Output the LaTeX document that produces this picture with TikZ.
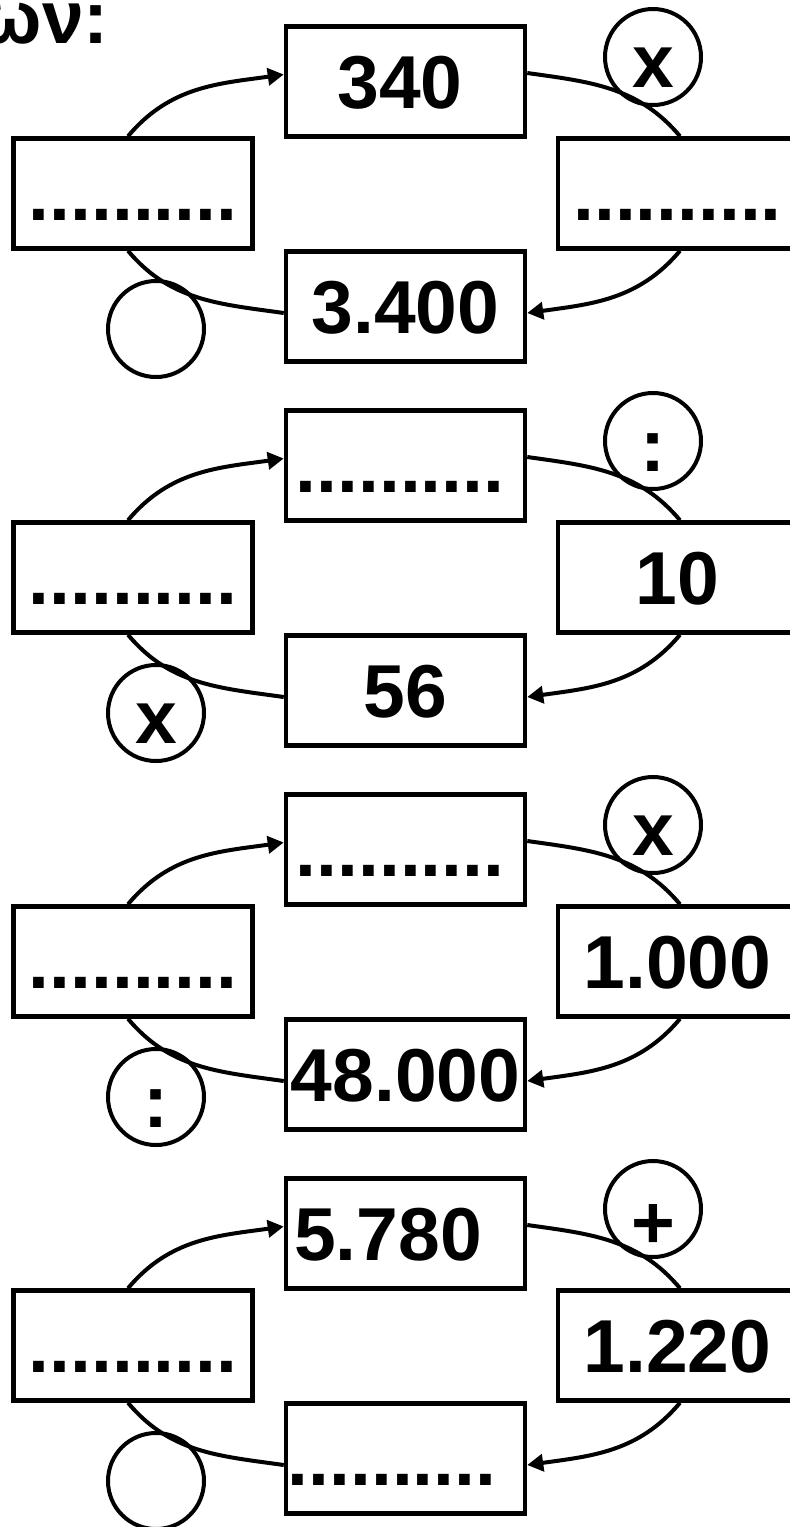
\documentclass[tikz,border=0pt]{standalone}
\usepackage{fontspec}
\setmainfont{Liberation Sans}
\usetikzlibrary{arrows.meta}
\newcommand\bigfont{\fontsize{75pt}{80pt}\selectfont\bfseries}
\newcommand\shl[2]{#2\hspace*{#1}}
\tikzset{
  numbox/.style={draw, line width=4.5pt, minimum width=239pt, minimum height=110pt,
    inner sep=0pt, text height=54pt, text depth=0pt, font=\bigfont},
  opcircle/.style={draw, circle, line width=4pt, minimum size=96pt, inner sep=0pt,
    text height=60pt, text depth=0pt, font=\bigfont},
  flow/.style={line width=4pt},
  flowarrow/.style={line width=4pt, -{Triangle[length=16pt,width=17pt]}},
}
% #1 vertical offset, #2 top, #3 left, #4 right, #5 bottom, #6 top-right op, #7 bottom-left op
\newcommand\cycleblock[7]{%
  \begin{scope}[yshift=-#1pt]
    \node[numbox] (t#1) at (405.5,-81.5) {#2};
    \node[numbox] (l#1) at (133,-193.5) {#3};
    \node[numbox] (r#1) at (677.5,-193.5) {#4};
    \node[numbox] (b#1) at (405.5,-306.5) {#5};
    \node[opcircle] (c#1) at (653,-57) {#6};
    \node[opcircle] (d#1) at (156,-329) {#7};
    \draw[flowarrow] ([xshift=-5pt]l#1.north) to[out=50,in=188] ([yshift=7pt]t#1.west);
    \draw[flow] ([yshift=8.5pt]t#1.east) to[out=-8,in=130] ([xshift=2.5pt]r#1.north);
    \draw[flowarrow] ([xshift=2.5pt]r#1.south) to[out=-130,in=8] ([yshift=-6.5pt]b#1.east);
    \draw[flow] ([yshift=-6.5pt]b#1.west) to[out=172,in=-50] ([xshift=-5pt]l#1.south);
  \end{scope}}
\begin{document}
\begin{tikzpicture}[x=1pt,y=1pt]
  \clip (0,0) rectangle (790,-1527);
  \node[font=\bigfont, anchor=base east, inner sep=0pt] (title) at (109,-43) {ων:};
  \cycleblock{0}{\shl{11pt}{340}}{..........}{..........}{3.400}{x}{}
  \cycleblock{384}{\shl{11pt}{..........}}{..........}{10}{56}{:}{x}
  \cycleblock{768}{\shl{11pt}{..........}}{..........}{1.000}{48.000}{x}{:}
  \cycleblock{1152}{\shl{35pt}{5.780}}{..........}{1.220}{\shl{27pt}{..........}}{\raisebox{-9pt}{+}}{}
\end{tikzpicture}
\end{document}
